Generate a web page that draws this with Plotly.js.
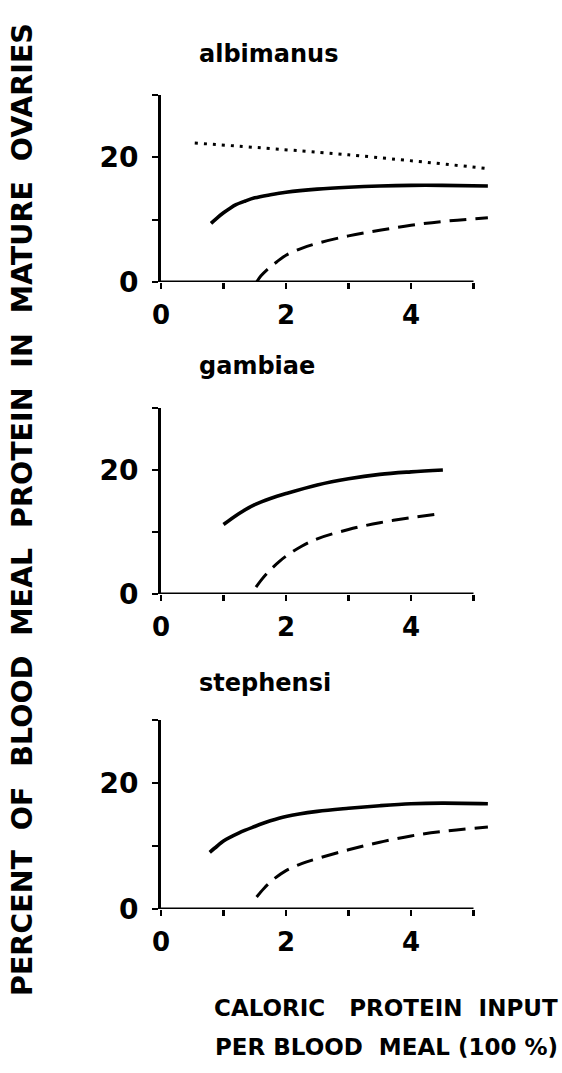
<!DOCTYPE html>
<html>
<head>
<meta charset="utf-8">
<script src="https://cdn.plot.ly/plotly-3.0.1.min.js"></script>
<style>html,body{margin:0;padding:0;background:#fff;}#chart{width:562px;height:1073px;}</style>
</head>
<body>
<div id="chart"></div>
<script>
// ---- data ----
const panelNames = ["albimanus", "gambiae", "stephensi"];

const albSolidX = [0.8, 0.9, 1.0, 1.1, 1.2, 1.35, 1.5, 1.75, 2.0, 2.5, 3.0, 3.5, 4.0, 4.5, 5.23];
const albSolidY = [9.4, 10.3, 11.1, 11.8, 12.4, 13.0, 13.5, 14.0, 14.4, 14.9, 15.2, 15.4, 15.5, 15.5, 15.4];
const albDashX  = [1.53, 1.6, 1.7, 1.85, 2.0, 2.25, 2.5, 3.0, 3.5, 4.0, 4.5, 5.23];
const albDashY  = [0.0, 1.0, 2.0, 3.2, 4.3, 5.4, 6.2, 7.4, 8.3, 9.1, 9.7, 10.3];
const albDotX   = [0.54, 3.0, 5.23];
const albDotY   = [22.3, 20.4, 18.2];

const gamSolidX = [1.0, 1.25, 1.5, 1.75, 2.0, 2.5, 3.0, 3.5, 4.0, 4.51];
const gamSolidY = [11.2, 13.0, 14.4, 15.4, 16.2, 17.6, 18.6, 19.3, 19.7, 20.0];
const gamDashX  = [1.52, 1.6, 1.75, 1.9, 2.0, 2.25, 2.5, 3.0, 3.5, 4.0, 4.51];
const gamDashY  = [1.1, 2.2, 3.9, 5.3, 6.1, 7.7, 8.9, 10.4, 11.5, 12.3, 13.0];

const steSolidX = [0.78, 0.9, 1.0, 1.25, 1.5, 1.75, 2.0, 2.5, 3.0, 3.5, 4.0, 4.5, 5.23];
const steSolidY = [9.0, 10.0, 10.8, 12.1, 13.1, 14.0, 14.7, 15.5, 16.0, 16.4, 16.7, 16.8, 16.7];
const steDashX  = [1.53, 1.65, 1.8, 2.0, 2.25, 2.5, 3.0, 3.5, 4.0, 4.5, 5.23];
const steDashY  = [1.9, 3.3, 4.7, 6.1, 7.2, 8.0, 9.4, 10.6, 11.6, 12.3, 13.0];

const xTickVals = [0, 1, 2, 3, 4, 5];
const xTickText = ["0", "", "2", "", "4", ""];
const yTickVals = [0, 10, 20, 30];
const yTickText = ["0", "", "20", ""];

const yTitle = "PERCENT  OF  BLOOD  MEAL  PROTEIN  IN  MATURE  OVARIES";
const xTitle1 = "CALORIC   PROTEIN  INPUT";
const xTitle2 = "PER BLOOD  MEAL (100 %)";

// ---- layout helpers (pixel -> paper) ----
const W = 562, H = 1073;
const px = v => v / W;
const py = v => 1 - v / H;
const nb = s => s.replace(/ /g, "\u00A0");

const FONT = "DejaVu Sans";
const black = "#000";

function solid(x, y, xa, ya) {
  return {x, y, xaxis: xa, yaxis: ya, mode: "lines", type: "scatter",
          line: {color: black, width: 3.6, shape: "spline", smoothing: 1}, hoverinfo: "skip"};
}
function dashed(x, y, xa, ya) {
  return {x, y, xaxis: xa, yaxis: ya, mode: "lines", type: "scatter",
          line: {color: black, width: 3, dash: "17px,9px", shape: "spline", smoothing: 1}, hoverinfo: "skip"};
}
function dotted(x, y, xa, ya) {
  return {x, y, xaxis: xa, yaxis: ya, mode: "lines", type: "scatter",
          line: {color: black, width: 3, dash: "3px,6px", shape: "spline"}, hoverinfo: "skip"};
}

const data = [
  dotted(albDotX, albDotY, "x", "y"),
  solid(albSolidX, albSolidY, "x", "y"),
  dashed(albDashX, albDashY, "x", "y"),
  solid(gamSolidX, gamSolidY, "x2", "y2"),
  dashed(gamDashX, gamDashY, "x2", "y2"),
  solid(steSolidX, steSolidY, "x3", "y3"),
  dashed(steDashX, steDashY, "x3", "y3"),
];

// panel pixel boxes: [y of 0, y of 30]
const panels = [[282, 95], [594, 408], [909, 720]];
const xLeft = 161, xRight = 161 + 62.5 * 5.3;

function xAxis(anchor) {
  return {domain: [px(xLeft), px(xRight)], range: [0, 5.3], anchor,
          showgrid: false, zeroline: false, showline: false,
          ticks: "outside", ticklen: 6, tickwidth: 2.2, tickcolor: black,
          tickvals: xTickVals, ticktext: xTickText, ticklabelstandoff: 4,
          tickfont: {family: FONT, size: 26, color: black, weight: 700},
          automargin: false, fixedrange: true};
}
function yAxis(anchor, p) {
  return {domain: [py(p[0]), py(p[1])], range: [0, 30], anchor,
          showgrid: false, zeroline: false, showline: true, linecolor: black, linewidth: 3,
          ticks: "outside", ticklen: 6, tickwidth: 2.2, tickcolor: black,
          tickvals: yTickVals, ticktext: yTickText, ticklabelstandoff: 8,
          tickfont: {family: FONT, size: 28, color: black, weight: 700},
          automargin: false, fixedrange: true};
}

const shapes = [];
[["x", "y"], ["x2", "y2"], ["x3", "y3"]].forEach(([xa, ya]) => {
  shapes.push({type: "line", xref: xa, yref: ya, x0: 0, x1: 5, y0: 0, y1: 0,
               line: {color: black, width: 3}});
});

const titleY = [54, 366, 683];
const annotations = panelNames.map((n, i) => ({
  text: n, xref: "paper", yref: "paper", x: px(197), y: py(titleY[i]),
  xanchor: "left", yanchor: "middle", showarrow: false,
  font: {family: FONT, size: 24, color: black, weight: 700}
}));
annotations.push({
  text: nb(yTitle), xref: "paper", yref: "paper", x: px(23), y: py(510),
  xanchor: "center", yanchor: "middle", textangle: -90, showarrow: false,
  font: {family: FONT, size: 28.5, color: black, weight: 700}
});
annotations.push({
  text: nb(xTitle1), xref: "paper", yref: "paper", x: px(386), y: py(1008),
  xanchor: "center", yanchor: "middle", showarrow: false,
  font: {family: FONT, size: 23, color: black, weight: 700}
});
annotations.push({
  text: nb(xTitle2), xref: "paper", yref: "paper", x: px(386), y: py(1047),
  xanchor: "center", yanchor: "middle", showarrow: false,
  font: {family: FONT, size: 23, color: black, weight: 700}
});

const layout = {
  width: W, height: H,
  margin: {l: 0, r: 0, t: 0, b: 0, pad: 0},
  paper_bgcolor: "#fff", plot_bgcolor: "rgba(0,0,0,0)",
  showlegend: false,
  xaxis: xAxis("y"), yaxis: yAxis("x", panels[0]),
  xaxis2: xAxis("y2"), yaxis2: yAxis("x2", panels[1]),
  xaxis3: xAxis("y3"), yaxis3: yAxis("x3", panels[2]),
  shapes, annotations
};

Plotly.newPlot("chart", data, layout, {displayModeBar: false, staticPlot: true});
</script>
</body>
</html>
